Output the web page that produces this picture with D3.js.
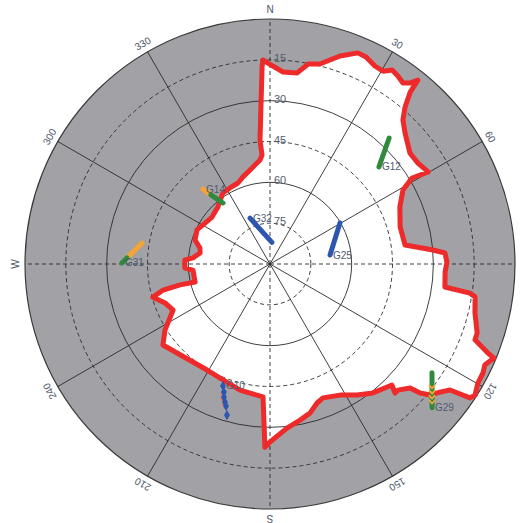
<!DOCTYPE html>
<html><head><meta charset="utf-8">
<script src="https://cdn.jsdelivr.net/npm/d3@7"></script>
<style>html,body{margin:0;padding:0;background:#fff;}svg{display:block;}</style>
</head><body>
<script>
// ---- data ----
const AZ_TICKS = [0,30,60,90,120,150,180,210,240,270,300,330];
const AZ_LABELS = ["N","30","60","E","120","150","S","210","240","W","300","330"];
const EL_RINGS = [0,15,30,45,60,75];
const EL_LABELS = ["15","30","45","60","75"];

// obstruction mask boundary (azimuth deg, elevation deg), clockwise from north
const MASK_AZ = [358.0,359.4,3.9,8.1,9.6,10.8,14.0,18.6,22.6,24.9,27.9,30.4,32.2,34.3,36.3,37.7,38.8,39.2,40.7,42.7,45.9,51.6,55.7,59.8,58.8,60.9,66.3,74.1,82.0,85.1,86.4,89.4,92.6,97.5,98.3,99.1,103.4,108.4,110.3,112.1,112.8,115.2,117.1,119.8,122.6,123.8,125.0,127.0,129.3,130.7,131.5,134.6,135.9,134.8,136.4,141.4,146.4,151.9,158.4,161.3,165.0,169.1,174.1,180.0,181.6,183.0,193.4,210.7,232.9,237.8,244.6,249.6,254.2,256.3,256.9,256.5,265.5,267.3,272.7,274.5,278.9,282.9,287.7,295.0,302.2,309.0,317.6,326.5,332.2,338.4,342.8,348.0,354.5,355.8,355.4,356.9,357.7];
const MASK_EL = [15.0,16.2,19.3,19.1,17.0,15.2,14.3,9.4,6.0,6.2,7.7,7.9,5.8,6.5,7.5,6.0,3.3,8.5,13.9,18.0,20.9,24.4,24.2,22.8,29.0,34.1,37.9,40.3,39.9,29.9,25.6,25.0,25.6,25.2,15.8,13.7,12.6,9.8,9.7,4.0,0.8,2.8,2.1,2.0,0.6,1.6,9.3,11.8,14.0,17.3,21.3,24.0,24.0,26.9,27.6,29.4,32.2,35.4,37.1,36.1,33.3,31.6,29.4,24.6,22.7,41.1,42.4,44.7,40.7,44.4,50.6,48.9,45.3,49.6,56.1,61.7,61.6,58.7,58.7,61.6,64.0,63.6,61.1,60.4,61.8,62.6,61.6,58.7,58.4,58.0,56.5,54.7,51.6,49.9,44.3,29.7,17.6];

// satellite tracks (azimuth, elevation); first point carries the label
const G32_AZ = [336.5, 5.0],   G32_EL = [71.6, 82.0];
const G25_AZ = [81.5, 59.6],   G25_EL = [67.7, 60.2];
const G12_AZ = [48.3, 43.4],   G12_EL = [36.4, 26.3];
const G14_ORANGE_AZ = [318.2, 319.5], G14_ORANGE_EL = [53.1, 56.6];
const G14_GREEN_AZ = [319.5, 322.4],  G14_GREEN_EL = [56.6, 61.7];
const G31_ORANGE_AZ = [272.4, 279.3], G31_ORANGE_EL = [37.4, 42.4];
const G31_GREEN_AZ = [270.4, 272.4],  G31_GREEN_EL = [35.6, 37.4];
const G10_AZ = [201.1, 199.8, 199.1, 198.1, 197.2, 195.9];
const G10_EL = [42.0, 40.0, 38.3, 36.7, 35.4, 32.3];
const G10_ORANGE_AZ = [199.9, 199.2, 198.0];
const G10_ORANGE_EL = [39.5, 37.6, 35.8];
const G29_AZ = [131.6, 123.9], G29_EL = [10.4, 18.3];
const G29_MARK_AZ = [127.2, 128.3, 129.4, 130.4];
const G29_MARK_EL = [15.3, 14.1, 13.0, 11.8];

const SAT_NAMES = ["G32","G25","G12","G14","G31","G10","G29"];
const SAT_LABEL_AZ = [G32_AZ[0], G25_AZ[0], G12_AZ[0], G14_ORANGE_AZ[0], G31_GREEN_AZ[0], G10_AZ[0], G29_AZ[0]];
const SAT_LABEL_EL = [G32_EL[0], G25_EL[0], G12_EL[0], G14_ORANGE_EL[0], G31_GREEN_EL[0], G10_EL[0], G29_EL[0]];

// ---- chart ----
const W = 521, H = 523, cx = 270, cy = 264, R = 245;
const BLUE = "#2c56b0", GREEN = "#2f8a3c", ORANGE = "#f4a535", RED = "#ee2a2a";

const svg = d3.select("body").append("svg").attr("width", W).attr("height", H);
const g = svg.append("g").attr("transform", `translate(${cx},${cy})`);

const r = d3.scaleLinear().domain([90, 0]).range([0, R]);
const ang = d3.scaleLinear().domain([0, 360]).range([0, 2 * Math.PI]);
const px = (az, el) => r(el) * Math.sin(ang(az));
const py = (az, el) => -r(el) * Math.cos(ang(az));
const pts = (A, E) => A.map((a, i) => [px(a, E[i]), py(a, E[i])]);
const line = d3.line();

// gray sky background
g.append("circle").attr("r", r(0)).attr("fill", "#a2a2a6");
// visible region
g.append("path").attr("d", line(pts(MASK_AZ, MASK_EL)) + "Z").attr("fill", "#fff");

// rings
g.selectAll("circle.ring").data(EL_RINGS).join("circle")
  .attr("class", "ring").attr("r", d => r(d)).attr("fill", "none")
  .attr("stroke", d => d === 0 ? "#3a3a3a" : "#2a2a2a")
  .attr("stroke-width", d => d === 0 ? 1.2 : 0.9)
  .attr("stroke-dasharray", d => (d === 15 || d === 45 || d === 75) ? "4,3" : null);

// spokes
g.selectAll("line.spoke").data(AZ_TICKS).join("line")
  .attr("class", "spoke")
  .attr("x1", 0).attr("y1", 0)
  .attr("x2", d => px(d, 0)).attr("y2", d => py(d, 0))
  .attr("stroke", "#2a2a2a").attr("stroke-width", 0.9)
  .attr("stroke-dasharray", d => d % 90 === 0 ? "4,3" : null);

// azimuth labels (the east label falls outside the picture, as in the original)
const LAB_R = R + 9.5;
const azShown = AZ_TICKS.map((d, i) => ({ d, t: AZ_LABELS[i] }))
  .filter(o => {
    const x = cx + LAB_R * Math.sin(ang(o.d));
    return x > 6 && x < W - 6;
  });
g.selectAll("text.az").data(azShown).join("text")
  .attr("class", "az")
  .attr("transform", o => `rotate(${o.d}) translate(0,${-LAB_R})`)
  .attr("text-anchor", "middle").attr("dominant-baseline", "central")
  .attr("font-family", "Liberation Sans, Arial, sans-serif").attr("font-size", 10)
  .attr("fill", "#4a5568")
  .text(o => o.t);

// mask outline
g.append("path").attr("d", line(pts(MASK_AZ, MASK_EL)) + "Z")
  .attr("fill", "none").attr("stroke", RED).attr("stroke-width", 5)
  .attr("stroke-linejoin", "round");

// elevation labels
g.selectAll("text.el").data(EL_LABELS).join("text")
  .attr("class", "el")
  .attr("x", 4).attr("y", d => -r(+d) - 2)
  .attr("dominant-baseline", "central")
  .attr("font-family", "Liberation Sans, Arial, sans-serif").attr("font-size", 11)
  .attr("fill", "#555d6b")
  .text(d => d);

// tracks
const trackList = [
  [G32_AZ, G32_EL, BLUE], [G25_AZ, G25_EL, BLUE], [G12_AZ, G12_EL, GREEN],
  [G14_ORANGE_AZ, G14_ORANGE_EL, ORANGE], [G14_GREEN_AZ, G14_GREEN_EL, GREEN],
  [G31_ORANGE_AZ, G31_ORANGE_EL, ORANGE], [G31_GREEN_AZ, G31_GREEN_EL, GREEN],
  [G29_AZ, G29_EL, GREEN]
];
g.selectAll("path.track").data(trackList).join("path")
  .attr("class", "track")
  .attr("d", d => line(pts(d[0], d[1])))
  .attr("fill", "none").attr("stroke", d => d[2])
  .attr("stroke-width", 5).attr("stroke-linecap", "round");

// G29 chevron markers
g.selectAll("path.g29m").data(pts(G29_MARK_AZ, G29_MARK_EL)).join("path")
  .attr("class", "g29m")
  .attr("d", d => `M${d[0]-3},${d[1]-2}L${d[0]},${d[1]+1.5}L${d[0]+3},${d[1]-2}`)
  .attr("fill", "none").attr("stroke", ORANGE).attr("stroke-width", 1.8);

// G10 markers
const diamond = d3.symbol().type(d3.symbolDiamond);
g.selectAll("path.g10o").data(pts(G10_ORANGE_AZ, G10_ORANGE_EL)).join("path")
  .attr("class", "g10o").attr("transform", d => `translate(${d[0]},${d[1]})`)
  .attr("d", diamond.size(22)()).attr("fill", "#e8743b");
g.selectAll("path.g10").data(pts(G10_AZ, G10_EL)).join("path")
  .attr("class", "g10").attr("transform", d => `translate(${d[0]},${d[1]})`)
  .attr("d", diamond.size(30)()).attr("fill", BLUE);

// satellite labels
g.selectAll("text.sat").data(SAT_NAMES).join("text")
  .attr("class", "sat")
  .attr("x", (d, i) => px(SAT_LABEL_AZ[i], SAT_LABEL_EL[i]) + 3)
  .attr("y", (d, i) => py(SAT_LABEL_AZ[i], SAT_LABEL_EL[i]))
  .attr("dominant-baseline", "central")
  .attr("font-family", "Liberation Sans, Arial, sans-serif").attr("font-size", 10)
  .attr("fill", "#4f5a70")
  .text(d => d);
</script>
</body></html>
